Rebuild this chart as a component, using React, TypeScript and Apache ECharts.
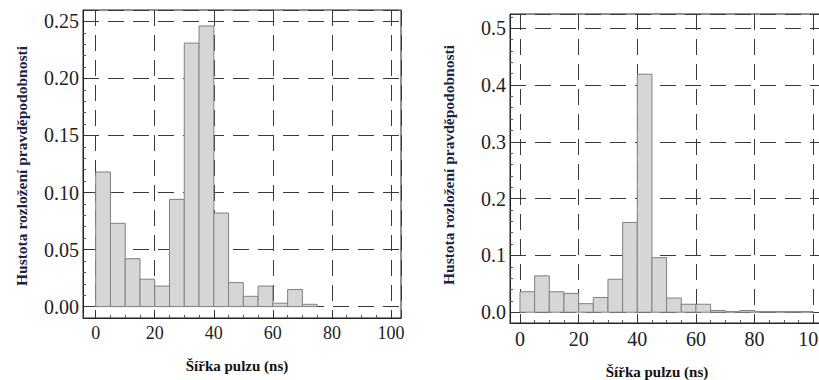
import React, { useEffect, useRef } from 'react';
import * as echarts from 'echarts';

// ---- data ----
const binWidth = 5;
const leftBinStarts = [0, 5, 10, 15, 20, 25, 30, 35, 40, 45, 50, 55, 60, 65, 70];
const leftDensity = [0.118, 0.073, 0.042, 0.024, 0.018, 0.094, 0.231, 0.246, 0.082, 0.021, 0.009, 0.018, 0.003, 0.015, 0.002];
const rightBinStarts = [0, 5, 10, 15, 20, 25, 30, 35, 40, 45, 50, 55, 60, 65, 70, 75, 80, 85, 90, 95];
const rightDensity = [0.036, 0.064, 0.036, 0.033, 0.015, 0.026, 0.058, 0.158, 0.419, 0.096, 0.025, 0.014, 0.014, 0.003, 0.001, 0.003, 0.001, 0.001, 0.001, 0.001];
const xTickLabels = ['0', '20', '40', '60', '80', '100'];
const leftYTickLabels = ['0.00', '0.05', '0.10', '0.15', '0.20', '0.25'];
const rightYTickLabels = ['0.0', '0.1', '0.2', '0.3', '0.4', '0.5'];
const xTitle = 'Šířka pulzu (ns)';
const yTitle = 'Hustota rozložení pravděpodobnosti';

const FONT = '"Liberation Serif", "DejaVu Serif", serif';

function nearMultiple(v: number, step: number) {
  const r = v / step;
  return Math.abs(r - Math.round(r)) < 1e-6;
}

function xFormatter(v: number) {
  if (!nearMultiple(v, 20)) return '';
  const s = String(Math.round(v));
  return xTickLabels.includes(s) ? s : '';
}

function yFormatter(step: number, digits: number, list: string[]) {
  return (v: number) => {
    if (!nearMultiple(v, step)) return '';
    const s = (Math.abs(v) < 1e-9 ? 0 : v).toFixed(digits);
    return list.includes(s) ? s : '';
  };
}

function histData(starts: number[], vals: number[]) {
  return starts.map((s, i) => [s, s + binWidth, vals[i]]);
}

const renderBar = (params: any, api: any) => {
  const p0 = api.coord([api.value(0), api.value(2)]);
  const p1 = api.coord([api.value(1), 0]);
  return {
    type: 'rect',
    shape: { x: p0[0], y: p0[1], width: p1[0] - p0[0], height: p1[1] - p0[1] },
    style: { fill: '#d6d6d6', stroke: '#808080', lineWidth: 1 },
  };
};

function xAxisCfg(gridIndex: number, min: number, max: number, fontSize: number) {
  return {
    type: 'value',
    gridIndex,
    min,
    max,
    minInterval: 20,
    maxInterval: 20,
    axisLine: { show: true, onZero: false, lineStyle: { color: '#222', width: 1 } },
    axisTick: { show: true, inside: true, length: 5, lineStyle: { color: '#333' } },
    minorTick: { show: true, splitNumber: 4, length: 3, lineStyle: { color: '#555' } },
    splitLine: { show: true, lineStyle: { color: '#3a3a3a', type: [16, 9], width: 1 } },
    axisLabel: { margin: 6, fontSize, fontFamily: FONT, color: '#222', formatter: xFormatter },
  };
}

function yAxisCfg(gridIndex: number, min: number, max: number, step: number, digits: number, list: string[], minorSplit: number) {
  return {
    type: 'value',
    gridIndex,
    min,
    max,
    minInterval: step,
    maxInterval: step,
    axisLine: { show: true, onZero: false, lineStyle: { color: '#222', width: 1 } },
    axisTick: { show: true, inside: true, length: 5, lineStyle: { color: '#333' } },
    minorTick: { show: true, splitNumber: minorSplit, length: 3, lineStyle: { color: '#555' } },
    splitLine: { show: true, lineStyle: { color: '#3a3a3a', type: [16, 9], width: 1 } },
    axisLabel: { margin: 4, fontSize: 20, fontFamily: FONT, color: '#222', formatter: yFormatter(step, digits, list) },
  };
}

function titleText(text: string, x: number, y: number, rotate: boolean, size: number, color: string) {
  return {
    type: 'text',
    x,
    y,
    rotation: rotate ? Math.PI / 2 : 0,
    style: {
      text,
      fill: color,
      font: `bold ${size}px ${FONT}`,
      textAlign: 'center',
      textVerticalAlign: 'middle',
      align: 'center',
      verticalAlign: 'middle',
    },
  };
}

export default function App() {
  const ref = useRef<HTMLDivElement>(null);
  useEffect(() => {
    if (!ref.current) return;
    const chart = echarts.init(ref.current, null, { renderer: 'svg' });
    chart.setOption({
      animation: false,
      backgroundColor: '#ffffff',
      grid: [
        { left: 83, top: 10, width: 318, height: 308, show: true, borderColor: '#222', borderWidth: 1, backgroundColor: 'transparent', containLabel: false, outerBoundsMode: 'none' },
        { left: 510, top: 14, width: 315, height: 309, show: true, borderColor: '#222', borderWidth: 1, backgroundColor: 'transparent', containLabel: false, outerBoundsMode: 'none' },
      ],
      xAxis: [xAxisCfg(0, -4.3, 103.4, 18), xAxisCfg(1, -3.4, 104, 20)],
      yAxis: [
        yAxisCfg(0, -0.01, 0.26, 0.05, 2, leftYTickLabels, 5),
        yAxisCfg(1, -0.019, 0.525, 0.1, 1, rightYTickLabels, 5),
      ],
      series: [
        {
          type: 'custom',
          xAxisIndex: 0,
          yAxisIndex: 0,
          renderItem: renderBar,
          encode: { x: [0, 1], y: 2 },
          data: histData(leftBinStarts, leftDensity),
          clip: true,
        },
        {
          type: 'custom',
          xAxisIndex: 1,
          yAxisIndex: 1,
          renderItem: renderBar,
          encode: { x: [0, 1], y: 2 },
          data: histData(rightBinStarts, rightDensity),
          clip: true,
        },
      ],
      graphic: [
        titleText(yTitle, 21, 166, true, 15.5, '#1c2444'),
        titleText(xTitle, 237, 366, false, 15, '#111'),
        titleText(yTitle, 448, 165, true, 15.5, '#1c2444'),
        titleText(xTitle, 657, 372, false, 15, '#111'),
      ],
    });
    return () => chart.dispose();
  }, []);
  return (
    <div
      ref={ref}
      style={{ position: 'absolute', left: 0, top: 0, width: 819, height: 380, background: '#fff' }}
    />
  );
}
